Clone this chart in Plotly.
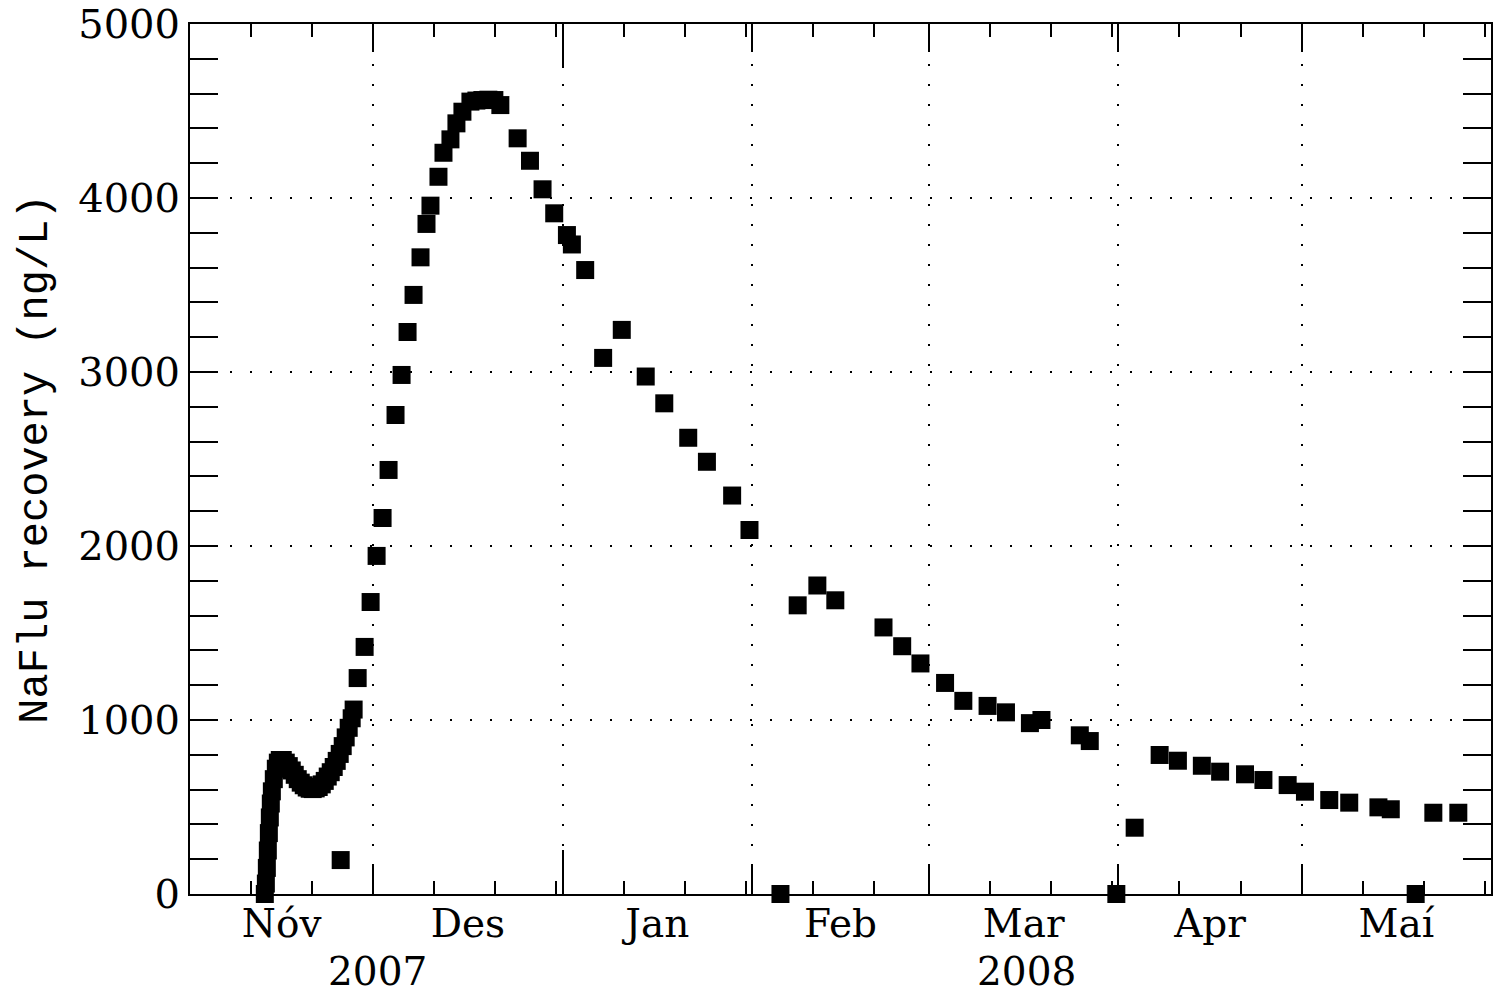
import pandas as pd
import plotly.graph_objects as go

# Sampling times as days after 1 November 2007, and NaFlu recovery (ng/L)
day_offset = [
    # dense logger record, mid November
    12.25, 12.42, 12.58, 12.74, 12.91, 13.07, 13.23, 13.40, 13.72, 14.05,
    14.38, 14.70, 15.19, 15.68, 16.17, 16.66, 17.15, 17.64, 18.13, 18.62,
    19.11, 19.60, 20.09, 20.58, 21.07, 21.57, 22.06, 22.55, 23.04, 23.53,
    24.02, 24.51, 25.00, 25.49, 25.98, 26.47, 26.79,
    # single low sample
    24.67,
    # daily samples around the peak
    27.45, 28.59, 29.57, 30.55, 31.53, 32.51, 33.65, 34.64, 35.62, 36.60,
    37.74, 38.72, 39.37, 40.68, 41.50, 42.64, 43.62, 44.60, 45.91, 46.89,
    47.87, 48.85, 49.83, 50.81,
    # recession
    53.64, 55.66, 57.72, 59.63, 61.71, 62.52, 64.70, 67.64, 70.69, 74.61,
    77.65, 81.57, 84.63, 88.76, 91.60, 96.67, 99.49, 102.71, 105.65, 113.54,
    116.60, 119.59, 123.62, 126.61, 130.58, 133.59, 137.51, 139.40, 145.68, 147.31,
    151.66, 154.66, 158.75, 161.74, 165.66, 168.65, 172.73, 175.74, 179.71, 182.54,
    186.52, 189.79, 194.57, 196.59, 200.67, 203.56, 207.65,
]
recovery_ngL = [
    0, 60, 150, 250, 350, 440, 520, 590, 660, 720,
    755, 770, 770, 755, 735, 710, 685, 660, 640, 625,
    612, 605, 603, 607, 615, 630, 650, 675, 700, 730,
    765, 805, 850, 900, 955, 1010, 1060,
    195,
    1241, 1420, 1678, 1943, 2161, 2437, 2753, 2983, 3230, 3443,
    3659, 3851, 3956, 4122, 4260, 4337, 4429, 4496, 4554, 4560,
    4563, 4565, 4563, 4534,
    4343, 4214, 4050, 3912, 3787, 3733, 3586, 3081, 3242, 2974,
    2820, 2622, 2484, 2290, 2092, 0, 1659, 1773, 1688, 1532,
    1424, 1325, 1213, 1110, 1081, 1044, 982, 1000, 912, 879,
    0, 381, 799, 766, 737, 703, 688, 655, 626, 588,
    540, 525, 498, 487, 0, 467, 467,
]

month_starts = ["2007-11-01", "2007-12-01", "2008-01-01", "2008-02-01", "2008-03-01",
                "2008-04-01", "2008-05-01", "2008-06-01"]
month_names = ["Nóv", "Des", "Jan", "Feb", "Mar", "Apr", "Maí"]
minor_dates = ["2007-11-11", "2007-11-21", "2007-12-11", "2007-12-21", "2007-12-31",
               "2008-01-11", "2008-01-21", "2008-01-31", "2008-02-11", "2008-02-21",
               "2008-03-11", "2008-03-21", "2008-03-31", "2008-04-11", "2008-04-21",
               "2008-05-11", "2008-05-21", "2008-05-31"]
year_change = ["2008-01-01"]
year_labels = ["2007", "2008"]
year_label_dates = ["2007-12-01 16:00", "2008-03-17"]
y_ticks = [0, 1000, 2000, 3000, 4000, 5000]

START = pd.Timestamp("2007-11-01")
times = [START + pd.Timedelta(days=d) for d in day_offset]

starts = pd.to_datetime(month_starts)
mid_months = [starts[i] + (starts[i + 1] - starts[i]) / 2 for i in range(len(month_names))]
x_range = [month_starts[0], month_starts[-1]]

Y_LABEL_FONT = dict(family="DejaVu Serif", size=40, color="black")
X_LABEL_FONT = dict(family="DejaVu Serif", size=39, color="black")
DOTS = "2px,18px"

fig = go.Figure()
fig.add_trace(go.Scatter(
    x=times, y=recovery_ngL, mode="markers",
    marker=dict(symbol="square", size=18, color="black", line=dict(width=0)),
    cliponaxis=False, showlegend=False,
))

fig.update_layout(
    width=1494, height=994,
    margin=dict(l=190, r=1, t=24, b=100),
    paper_bgcolor="white", plot_bgcolor="white",
    showlegend=False,
    xaxis=dict(
        type="date", range=x_range,
        tickmode="array", tickvals=month_starts[1:-1], showticklabels=False,
        ticks="inside", ticklen=28, tickwidth=2, tickcolor="black",
        showline=True, linecolor="black", linewidth=2, mirror="allticks",
        showgrid=True, gridcolor="black", gridwidth=2, griddash=DOTS,
        zeroline=False,
        minor=dict(tickmode="array", tickvals=minor_dates, ticks="inside",
                   ticklen=13, tickwidth=2, tickcolor="black", showgrid=False),
    ),
    xaxis2=dict(
        type="date", range=x_range, overlaying="x", anchor="y", side="bottom",
        tickmode="array", tickvals=mid_months, ticktext=month_names,
        ticks="", showline=False, showgrid=False, zeroline=False,
        tickfont=X_LABEL_FONT, ticklabelstandoff=3,
    ),
    xaxis3=dict(
        type="date", range=x_range, overlaying="x", anchor="y", side="bottom",
        tickmode="array", tickvals=year_change, showticklabels=False,
        ticks="inside", ticklen=44, tickwidth=2, tickcolor="black",
        mirror="allticks", showline=False, showgrid=False, zeroline=False,
    ),
    yaxis=dict(
        range=[0, 5000], tickmode="array", tickvals=y_ticks,
        ticks="inside", ticklen=28, tickwidth=2, tickcolor="black",
        showline=True, linecolor="black", linewidth=2, mirror="allticks",
        showgrid=True, gridcolor="black", gridwidth=2, griddash=DOTS,
        zeroline=False, tickfont=Y_LABEL_FONT,
        minor=dict(dtick=200, ticks="inside", ticklen=13, tickwidth=2,
                   tickcolor="black", showgrid=False),
        title=dict(text="NaFlu recovery (ng/L)", standoff=18,
                   font=dict(family="Liberation Mono", size=42, color="black")),
    ),
)

# invisible traces so the overlaying axes are drawn
fig.add_trace(go.Scatter(x=[times[0]], y=[None], xaxis="x2", showlegend=False, hoverinfo="skip"))
fig.add_trace(go.Scatter(x=[times[0]], y=[None], xaxis="x3", showlegend=False, hoverinfo="skip"))

for label, when in zip(year_labels, year_label_dates):
    fig.add_annotation(x=when, y=-100 / 870, xref="x", yref="paper", text=label,
                       showarrow=False, font=X_LABEL_FONT, xanchor="center",
                       yanchor="bottom", borderpad=0, borderwidth=0)

fig.write_html("out.html")
